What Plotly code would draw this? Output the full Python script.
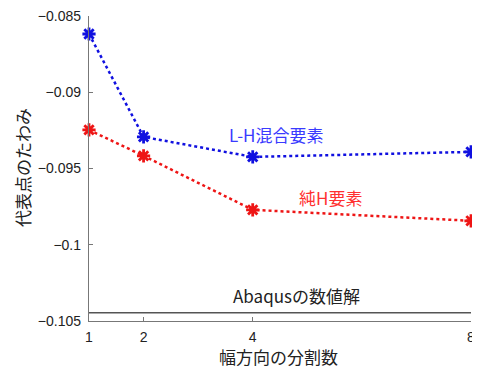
import plotly.graph_objects as go

divisions = [1, 2, 4, 8]
lh_mixed = [-0.08618, -0.09293, -0.09424, -0.09391]
pure_h = [-0.09247, -0.09417, -0.09771, -0.09843]
abaqus_value = -0.10446
x_ticks = [1, 2, 4, 8]
y_ticks = [-0.085, -0.09, -0.095, -0.1, -0.105]
y_tick_labels = ["−0.085", "−0.09", "−0.095", "−0.1", "−0.105"]

font_jp = "Noto Sans CJK JP"
font_num = "Liberation Sans"

fig = go.Figure()
fig.add_trace(go.Scatter(
    x=[divisions[0], divisions[-1]], y=[abaqus_value, abaqus_value], mode="lines",
    line=dict(color="#555555", width=1.3), showlegend=False, hoverinfo="skip", cliponaxis=False))
fig.add_trace(go.Scatter(
    x=divisions, y=lh_mixed, mode="lines+markers",
    line=dict(color="#1010e0", width=2.5, dash="dot"),
    marker=dict(symbol="asterisk", size=11, line=dict(color="#1010e0", width=2.8)),
    showlegend=False, cliponaxis=False))
fig.add_trace(go.Scatter(
    x=divisions, y=pure_h, mode="lines+markers",
    line=dict(color="#ee1515", width=2.5, dash="dot"),
    marker=dict(symbol="asterisk", size=11, line=dict(color="#ee1515", width=2.8)),
    showlegend=False, cliponaxis=False))

fig.add_annotation(x=4.43, y=-0.09274, text="L-H混合要素", showarrow=False,
                   font=dict(family=font_jp, size=17, color="#3a3aff"))
fig.add_annotation(x=5.42, y=-0.09687, text="純H要素", showarrow=False,
                   font=dict(family=font_jp, size=17, color="#ff3030"))
fig.add_annotation(x=4.81, y=-0.1033, text="Abaqusの数値解", showarrow=False,
                   font=dict(family=font_jp, size=17, color="#222222"))

fig.add_annotation(xref="paper", yref="paper", x=0.495, y=-0.118, yanchor="middle",
                   text="幅方向の分割数", showarrow=False,
                   font=dict(family=font_jp, size=17, color="#222222"))
fig.add_annotation(xref="paper", yref="paper", x=-0.173, y=0.505, xanchor="center", textangle=-90,
                   text="代表点のたわみ", showarrow=False,
                   font=dict(family=font_jp, size=17, color="#222222"))

# page body has an 8px margin, so the figure is shifted by 8px; compensate
fig.update_layout(
    width=472, height=364,
    margin=dict(l=81, r=9, t=8, b=51, autoexpand=False),
    plot_bgcolor="white", paper_bgcolor="white",
    xaxis=dict(range=[1, 8], tickvals=x_ticks, ticktext=[str(v) for v in x_ticks],
               automargin=False, ticklabeloverflow="allow", ticklabelstandoff=3,
               showgrid=False, zeroline=False, showline=True, linecolor="#777777", linewidth=1.3,
               ticks="inside", ticklen=4, tickcolor="#777777",
               tickfont=dict(family=font_num, size=14, color="#222222")),
    yaxis=dict(range=[-0.105, -0.085], tickvals=y_ticks, ticktext=y_tick_labels,
               automargin=False, ticklabeloverflow="allow", ticklabelstandoff=4,
               showgrid=False, zeroline=False, showline=True, linecolor="#777777", linewidth=1.3,
               ticks="inside", ticklen=4, tickcolor="#777777",
               tickfont=dict(family=font_num, size=14, color="#222222")),
)

fig.write_html("out.html")
